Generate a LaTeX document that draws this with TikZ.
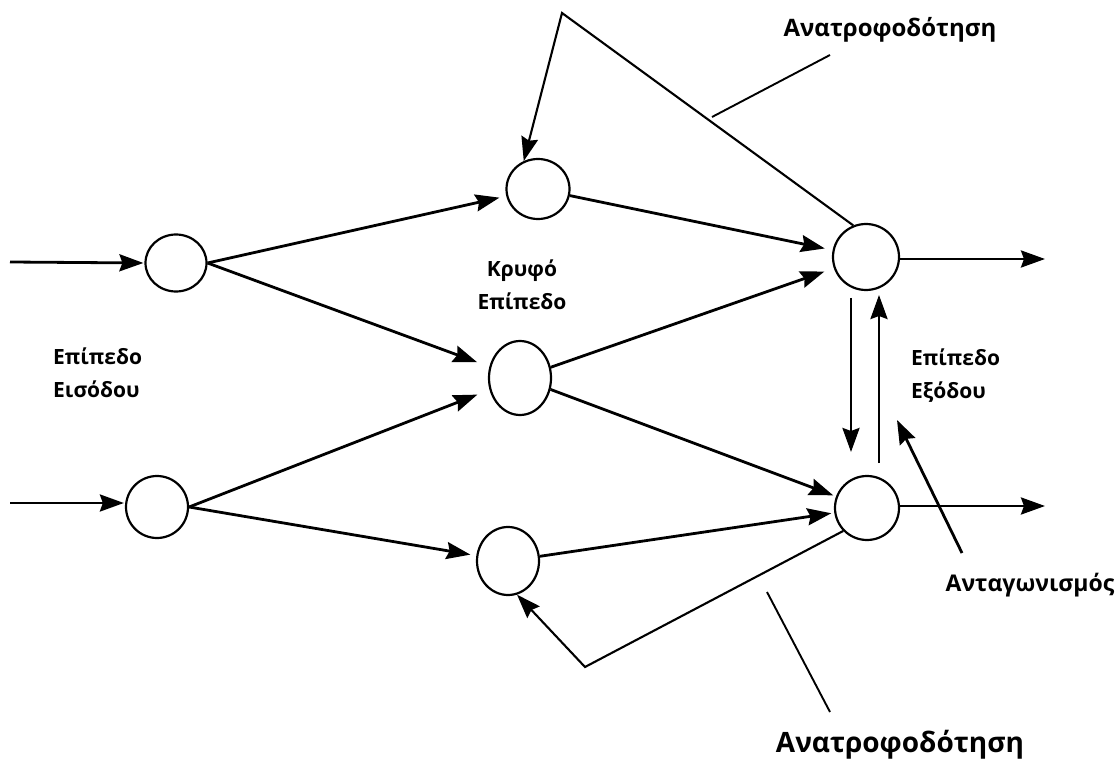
\documentclass[tikz,border=0pt]{standalone}
\usepackage{fontspec}
\setmainfont{Open Sans}
\usetikzlibrary{arrows.meta,shapes.geometric}
\begin{document}
\begin{tikzpicture}[x=1pt,y=-1pt,
  neuron/.style={ellipse, draw, line width=2.2pt, inner sep=0pt},
  link/.style={line width=2.8pt, -{Stealth[length=24pt,width=17pt,inset=3pt]}},
  plain/.style={line width=1.9pt},
  lbl/.style={font=\bfseries\fontsize{21}{33}\selectfont, inner sep=0pt}]
\useasboundingbox (0,0) rectangle (1120,762);

% input layer
\node[neuron, minimum width=61pt, minimum height=57pt] (I1) at (176,263) {};
\node[neuron, minimum width=62pt, minimum height=62pt] (I2) at (157,507) {};
% hidden layer
\node[neuron, minimum width=63pt, minimum height=60pt] (H1) at (538,189) {};
\node[neuron, minimum width=62pt, minimum height=74pt] (H2) at (520,378) {};
\node[neuron, minimum width=62pt, minimum height=68pt] (H3) at (508,561) {};
% output layer
\node[neuron, minimum width=66pt, minimum height=66pt] (O1) at (866,257) {};
\node[neuron, minimum width=64pt, minimum height=64pt] (O2) at (867,508) {};

% free ends of connectors
\coordinate (in1) at (10,262);
\coordinate (in2) at (10,503);
\coordinate (out1) at (1045,259);
\coordinate (out2) at (1045,506);
\coordinate (fbTop) at (562,13);
\coordinate (fbBot) at (585,667);
\coordinate (downA) at (851,298);
\coordinate (downB) at (851,452);
\coordinate (upA) at (879,463);
\coordinate (upB) at (879,295);
\coordinate (compA) at (962,553);
\coordinate (compB) at (897,420);
\coordinate (ptrTopA) at (712,117);
\coordinate (ptrTopB) at (830,55);
\coordinate (ptrBotA) at (767,592);
\coordinate (ptrBotB) at (830,712);

% inputs and outputs
\draw[link, shorten >=1pt] (in1) -- (I1.west);
\draw[link, shorten >=1pt] (in2) -- (I2.west |- in2);
\draw[link] (O1.east |- out1) -- (out1);
\draw[link] (O2.east |- out2) -- (out2);

% feed-forward weights
\draw[link, shorten >=7pt] (I1.east) -- (H1);
\draw[link, shorten >=13pt] (I1.east) -- (H2);
\draw[link, shorten >=13pt] (I2.east) -- (H2);
\draw[link, shorten >=6pt] (I2.east) -- (H3);
\draw[link, shorten >=8pt] (H1) -- (O1);
\draw[link, shorten >=10pt] (H2) -- (O1);
\draw[link, shorten >=3pt] (H2) -- (O2);
\draw[link, shorten >=3pt] (H3) -- (O2);

% feedback loops
\draw[link, line width=2.1pt] (O1.112) -- (fbTop) -- (H1.117);
\draw[link, line width=2.1pt] (O2.224) -- (fbBot) -- (H3.-75);

% lateral competition between output neurons
\draw[link] (downA) -- (downB);
\draw[link] (upA) -- (upB);
\draw[link] (compA) -- (compB);

% label pointers
\draw[plain] (ptrTopA) -- (ptrTopB);
\draw[plain] (ptrBotA) -- (ptrBotB);

% labels
\node[lbl, align=left, anchor=west] (inLbl) at (53,373) {Επίπεδο\\Εισόδου};
\node[lbl, align=center] (hidLbl) at (522,285) {Κρυφό\\Επίπεδο};
\node[lbl, align=left, anchor=west] (outLbl) at (911,376) {Επίπεδο\\Εξόδου};
\node[lbl, font=\bfseries\fontsize{23}{28}\selectfont] (compLbl) at (1030,585) {Ανταγωνισμός};
\node[lbl, font=\bfseries\fontsize{24}{28}\selectfont] (fbTopLbl) at (890,30) {Ανατροφοδότηση};
\node[lbl, font=\bfseries\fontsize{28}{32}\selectfont] (fbBotLbl) at (900,745) {Ανατροφοδότηση};
\end{tikzpicture}
\end{document}
